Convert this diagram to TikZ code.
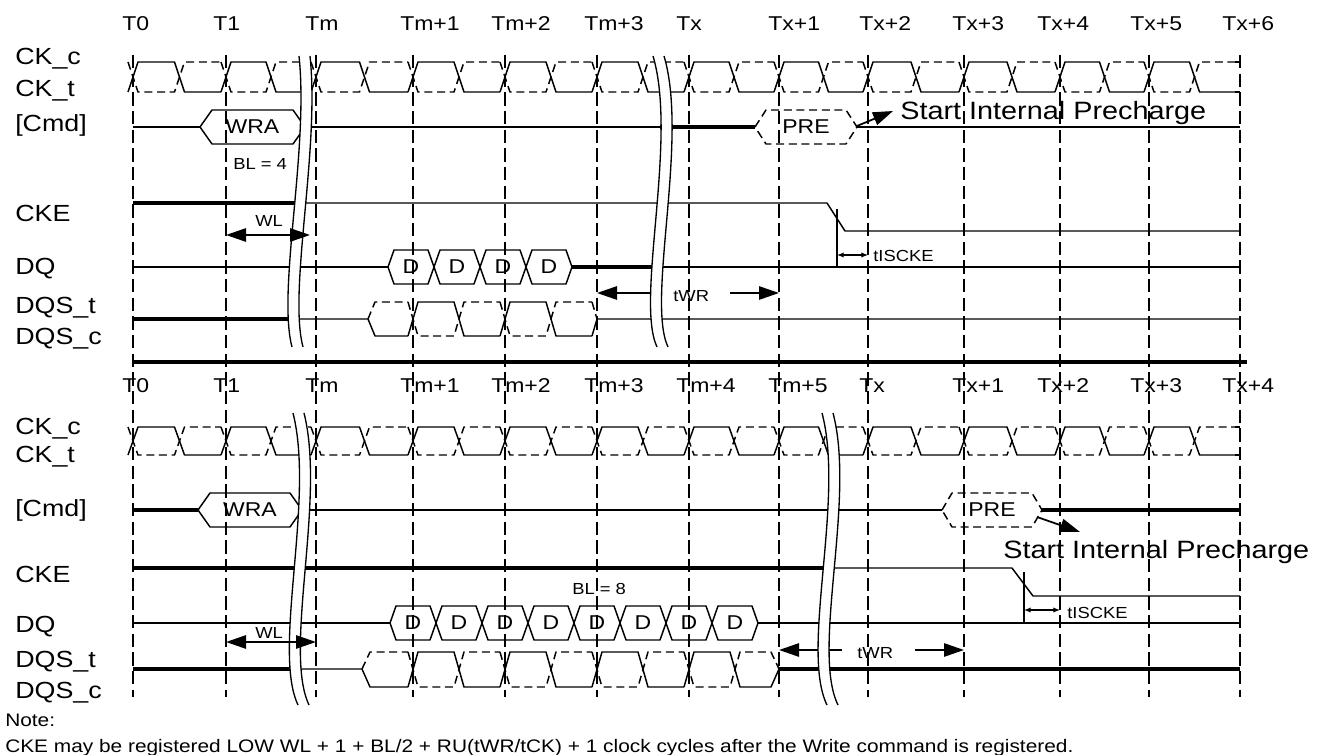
\documentclass[tikz,border=0pt]{standalone}
\usepackage{fontspec}
\setmainfont{Liberation Sans}[FakeStretch=1.15]
\usetikzlibrary{arrows.meta}

% bus value hexagon: [style]{name}{left x}{right x}{mid y}{slope}{text}
\newcommand{\hexbox}[7][sig]{%
  \draw[#1] (#3,#5) -- (#3+#6,#5-17) -- (#4-#6,#5-17) -- (#4,#5)
            -- (#4-#6,#5+17) -- (#3+#6,#5+17) -- cycle;
  \node[boxtxt] (#2) at ({(#3+#4)/2},#5) {#7};}

% differential clock: {high y}{low y}
\newcommand{\clockrow}[2]{%
  \foreach \a/\b in {133/226,226/316,316/413,413/505,505/597,597/689,
                     689/779,779/868,868/964,964/1060,1060/1149,1149/1240}{%
    \pgfmathsetmacro{\m}{(\a+\b)/2}
    \draw[sig] (\a-5,#2) -- (\a+5,#1) -- (\m-5,#1) -- (\m+5,#2) -- (\b-5,#2);
    \draw[sig,ckdash] (\a-5,#1) -- (\a+5,#2) -- (\m-5,#2) -- (\m+5,#1) -- (\b-5,#1);
  }
  \draw[sig] (1235,#2) -- (1240,#2);
  \draw[sig,ckdash] (1235,#1) -- (1240,#1);}

% time break: two parallel curves with a white gap
\newcommand{\breakmark}[8]{%
  \fill[white] (#1,#2) .. controls (#3,#4) and (#5,#6) .. (#7,#8)
    -- (#7+11,#8) .. controls (#5+11,#6) and (#3+11,#4) .. (#1+11,#2) -- cycle;
  \draw[brk] (#1,#2) .. controls (#3,#4) and (#5,#6) .. (#7,#8);
  \draw[brk] (#1+11,#2) .. controls (#3+11,#4) and (#5+11,#6) .. (#7+11,#8);}

\begin{document}
\begin{tikzpicture}[
    x=0.75pt, y=-0.75pt,
    sig/.style={line width=1.1pt, line join=round},
    bold/.style={line width=2.4pt},
    ckdash/.style={dash pattern=on 6pt off 3.5pt},
    tick/.style={line width=1.8pt, dash pattern=on 10pt off 4pt},
    brk/.style={line width=1pt},
    siglbl/.style={anchor=base west, inner sep=0pt, font=\fontsize{17.5pt}{20pt}\selectfont},
    ticklbl/.style={anchor=base west, inner sep=0pt, font=\fontsize{15pt}{18pt}\selectfont},
    boxtxt/.style={inner sep=0pt, font=\fontsize{15pt}{18pt}\selectfont},
    smalltxt/.style={anchor=base west, inner sep=0pt, font=\fontsize{12pt}{14pt}\selectfont},
    bigtxt/.style={anchor=base west, inner sep=0pt, font=\fontsize{18.8pt}{22pt}\selectfont},
    notetxt/.style={anchor=base west, inner sep=0pt, font=\fontsize{13.6pt}{16pt}\selectfont},
    arr/.style={line width=1.3pt, -{Triangle[length=15pt,width=10pt]}},
    darr/.style={line width=1.3pt, {Triangle[length=15pt,width=10pt]}-{Triangle[length=15pt,width=10pt]}},
    sarr/.style={line width=0.9pt, {Latex[length=5pt,width=4pt]}-{Latex[length=5pt,width=4pt]}}
  ]
  \useasboundingbox (0,0) rectangle (1325,755);

  % Clock edges
  \foreach \t in {133,226,316,413,505,597,689,779,868,964,1060,1149,1240}
    \draw[tick] (\t,55) -- (\t,697);
  \draw[line width=3pt] (133,362) -- (1247,362);

  % Edge labels
  \foreach \lx/\txt [count=\i] in {122/T0,213/T1,305/Tm,400/Tm+1,491/Tm+2,584/Tm+3,676/Tx,768/Tx+1,859/Tx+2,952/Tx+3,1037/Tx+4,1130/Tx+5,1222/Tx+6}
    \node[ticklbl] (tA\i) at (\lx,31) {\txt};
  \foreach \lx/\txt [count=\i] in {122/T0,213/T1,305/Tm,400/Tm+1,491/Tm+2,584/Tm+3,676/Tm+4,768/Tm+5,859/Tx,952/Tx+1,1037/Tx+2,1130/Tx+3,1222/Tx+4}
    \node[ticklbl] (tB\i) at (\lx,393) {\txt};

  % Signal names
  \foreach \y/\txt/\nm in {65/CK\_c/ckcA,97/CK\_t/cktA,132/[Cmd]/cmdA,222/CKE/ckeA,275/DQ/dqA,314/DQS\_t/dqstA,345/DQS\_c/dqscA,
                           435/CK\_c/ckcB,463/CK\_t/cktB,517/[Cmd]/cmdB,582/CKE/ckeB,632/DQ/dqB,667/DQS\_t/dqstB,698/DQS\_c/dqscB}
    \node[siglbl] (\nm) at (15,\y) {\txt};

  % ---- upper panel, BL = 4 ----
  \clockrow{62}{92}
  % Cmd
  \draw[sig] (133,127) -- (200,127);
  \hexbox{wraA}{200}{305}{127}{12}{WRA}
  \draw[sig] (305,127) -- (660,127);
  \draw[bold] (660,127) -- (755,127);
  \hexbox[sig,ckdash]{preA}{755}{857}{127}{11}{PRE}
  \draw[sig] (857,127) -- (1240,127);
  % CKE
  \draw[bold] (133,203) -- (305,203);
  \draw[sig] (305,203) -- (827,203) -- (845,231) -- (1240,231);
  \draw[line width=1.6pt] (837,209) -- (837,267);
  % DQ
  \draw[sig] (133,267) -- (388,267);
  \foreach \c [count=\i] in {411,457,503,549}
    {\hexbox{dA\i}{\c-23}{\c+23}{267}{6}{D}}
  \draw[bold] (572,267) -- (655,267);
  \draw[sig] (655,267) -- (1240,267);
  % DQS
  \draw[bold] (133,319) -- (296,319);
  \draw[sig] (296,319) -- (368,319) -- (375,336) -- (408,336);
  \draw[sig,ckdash] (368,319) -- (375,302) -- (408,302);
  \foreach \p in {413,505} {
    \draw[sig] (\p-5,336) -- (\p+5,302) -- (\p+41,302) -- (\p+51,336) -- (\p+87,336);
    \draw[sig,ckdash] (\p-5,302) -- (\p+5,336) -- (\p+41,336) -- (\p+51,302) -- (\p+87,302);
  }
  \draw[sig] (592,336) -- (597,319) -- (1240,319);
  \draw[sig,ckdash] (592,302) -- (597,319);
  % tWR start
  \coordinate (twrA1) at (652,293);
  \coordinate (twrA2) at (597,293);
  \draw[arr] (twrA1) -- (twrA2);
  % Breaks
  \breakmark{299}{56}{309}{150}{277}{290}{292}{347}
  \breakmark{653}{56}{678}{140}{635}{300}{657}{347}
  % Timing labels
  \node[smalltxt] (blA) at (233,170) {BL = 4};
  \coordinate (wlA1) at (226,235);
  \coordinate (wlA2) at (310,235);
  \draw[darr] (wlA1) -- (wlA2);
  \node[smalltxt] (wlA) at (255,227) {WL};
  \node[smalltxt] (twrA) at (673,302) {tWR};
  \coordinate (twrA3) at (730,293);
  \coordinate (twrA4) at (779,293);
  \draw[arr] (twrA3) -- (twrA4);
  \coordinate (tisA1) at (837,255);
  \coordinate (tisA2) at (868,255);
  \draw[sarr] (tisA1) -- (tisA2);
  \node[smalltxt] (tisA) at (873,262) {tISCKE};
  \coordinate (pchA1) at (857,126);
  \coordinate (pchA2) at (893,111);
  \draw[arr] (pchA1) -- (pchA2);
  \node[bigtxt] (startA) at (900,120) {Start Internal Precharge};

  % ---- lower panel, BL = 8 ----
  \clockrow{427}{455}
  % Cmd
  \draw[bold] (133,510) -- (198,510);
  \hexbox{wraB}{198}{302}{510}{12}{WRA}
  \draw[sig] (302,510) -- (942,510);
  \hexbox[sig,ckdash]{preB}{942}{1042}{510}{10}{PRE}
  \draw[bold] (1042,510) -- (1240,510);
  % CKE
  \draw[bold] (133,568) -- (830,568);
  \draw[sig] (830,568) -- (1012,568) -- (1033,596) -- (1240,596);
  \draw[line width=1.6pt] (1024,572) -- (1024,622);
  % DQ
  \draw[sig] (133,623) -- (390,623);
  \foreach \c [count=\i] in {413,459,505,551,597,643,689,735}
    {\hexbox{dB\i}{\c-23}{\c+23}{623}{6}{D}}
  \draw[sig] (758,623) -- (1240,623);
  % DQS
  \draw[bold] (133,669) -- (296,669);
  \draw[sig] (296,669) -- (362,669) -- (370,687) -- (408,687);
  \draw[sig,ckdash] (362,669) -- (370,652) -- (408,652);
  \foreach \p in {413,505,597} {
    \draw[sig] (\p-5,687) -- (\p+5,652) -- (\p+41,652) -- (\p+51,687) -- (\p+87,687);
    \draw[sig,ckdash] (\p-5,652) -- (\p+5,687) -- (\p+41,687) -- (\p+51,652) -- (\p+87,652);
  }
  \draw[sig] (684,687) -- (694,652) -- (730,652) -- (740,687) -- (771,687) -- (779,669);
  \draw[sig,ckdash] (684,652) -- (694,687) -- (730,687) -- (740,652) -- (771,652) -- (779,669);
  \draw[bold] (779,669) -- (1240,669);
  % tWR start
  \coordinate (twrB1) at (842,650);
  \coordinate (twrB2) at (779,650);
  \draw[arr] (twrB1) -- (twrB2);
  % Breaks
  \breakmark{293}{413}{315}{500}{272}{650}{298}{705}
  \breakmark{822}{413}{845}{500}{800}{650}{827}{705}
  % Timing labels
  \node[smalltxt] (blB) at (572,594) {BL = 8};
  \coordinate (wlB1) at (226,642);
  \coordinate (wlB2) at (316,642);
  \draw[darr] (wlB1) -- (wlB2);
  \node[smalltxt] (wlB) at (255,638) {WL};
  \node[smalltxt] (twrB) at (857,658) {tWR};
  \coordinate (twrB3) at (915,650);
  \coordinate (twrB4) at (964,650);
  \draw[arr] (twrB3) -- (twrB4);
  \coordinate (tisB1) at (1024,610);
  \coordinate (tisB2) at (1060,610);
  \draw[sarr] (tisB1) -- (tisB2);
  \node[smalltxt] (tisB) at (1067,618) {tISCKE};
  \coordinate (pchB1) at (1037,517);
  \coordinate (pchB2) at (1080,532);
  \draw[arr] (pchB1) -- (pchB2);
  \node[bigtxt] (startB) at (1003,558) {Start Internal Precharge};

  % Note
  \node[notetxt] (noteHd) at (5,726) {Note:};
  \node[notetxt] (noteTx) at (5,752) {CKE may be registered LOW WL + 1 + BL/2 + RU(tWR/tCK) + 1 clock cycles after the Write command is registered.};
\end{tikzpicture}
\end{document}
